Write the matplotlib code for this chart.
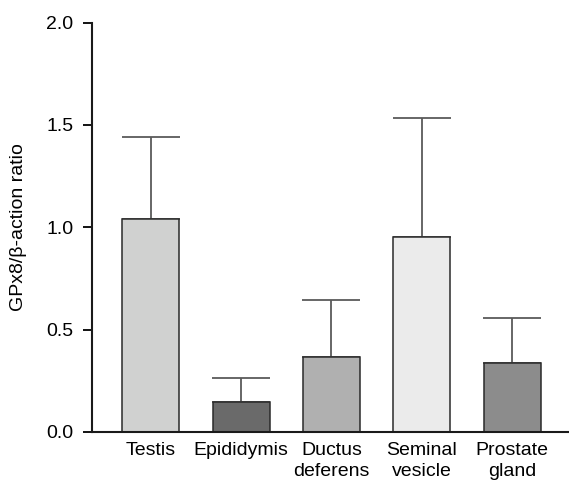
import matplotlib
matplotlib.use("Agg")
import matplotlib.pyplot as plt
import numpy as np

plt.rcParams['font.family'] = ['Liberation Sans', 'DejaVu Sans']

categories = ["Testis", "Epididymis", "Ductus\ndeferens", "Seminal\nvesicle", "Prostate\ngland"]
values = [1.04, 0.145, 0.367, 0.955, 0.339]
errors = [0.40, 0.12, 0.28, 0.58, 0.22]
colors = ["#d0d1d0", "#6a6a6a", "#b0b0b0", "#ebebeb", "#8c8c8c"]
yticks = [0.0, 0.5, 1.0, 1.5, 2.0]
ylabel = "GPx8/β-action ratio"

fig = plt.figure(figsize=(5.69, 4.92), dpi=100)
ax = fig.add_axes([0.161, 0.122, 0.839, 0.832])

x = np.arange(len(categories))
ax.bar(x, values, width=0.63, color=colors, edgecolor="#2a2a2a", linewidth=1.1, zorder=2)
ax.errorbar(x, values, yerr=[np.zeros(len(errors)), errors], fmt="none",
            ecolor="#5a5a5a", elinewidth=1.3, capsize=21, capthick=1.3, zorder=1)

ax.set_xlim(-0.654, 4.63)
ax.set_ylim(0, 2.0)
ax.set_yticks(yticks)
ax.set_yticklabels([f"{t:.1f}" for t in yticks], fontsize=14)
ax.set_xticks(x)
ax.set_xticklabels(categories, fontsize=14, linespacing=1.25, va="top")
ax.tick_params(axis="x", length=0, pad=7.5)
ax.tick_params(axis="y", length=6.5, width=1.3, pad=6.5, direction="out")
ax.set_ylabel(ylabel, fontsize=14, labelpad=14)

for s in ["top", "right"]:
    ax.spines[s].set_visible(False)
ax.spines["left"].set_linewidth(1.5)
ax.spines["bottom"].set_linewidth(1.5)
ax.spines["left"].set_color("#1a1a1a")
ax.spines["bottom"].set_color("#1a1a1a")

fig.savefig("out.png", dpi=100)
